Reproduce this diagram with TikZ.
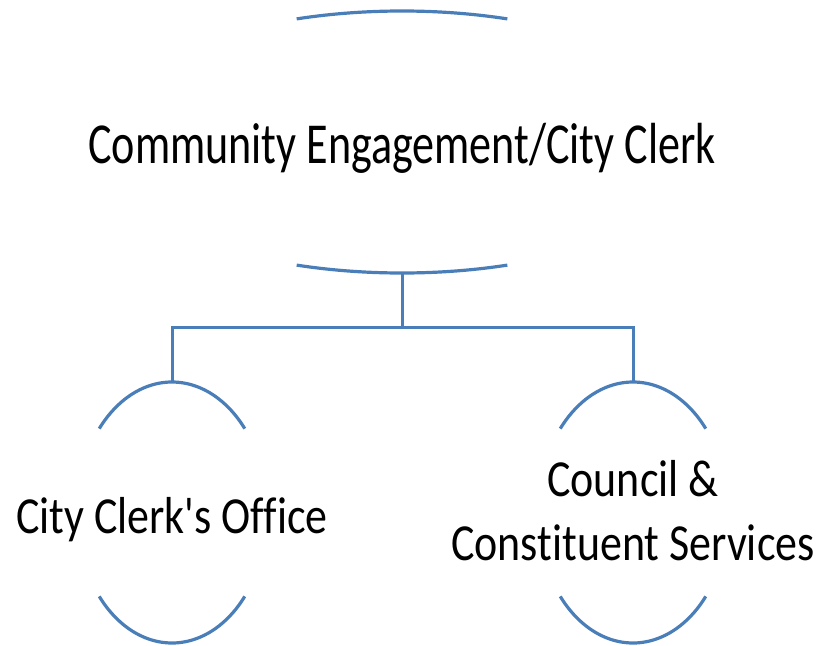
\documentclass[tikz,border=0pt]{standalone}
\usepackage{fontspec}
\setmainfont[Ligatures={TeXOff,CommonOff}]{Carlito}
\newfontfamily\headfont[Ligatures={TeXOff,CommonOff},FakeStretch=0.76]{Carlito}
\newfontfamily\unitfont[Ligatures={TeXOff,CommonOff},FakeStretch=0.845]{Carlito}
\usepackage{tikz}
\usetikzlibrary{calc}

\definecolor{orgblue}{RGB}{74,126,184}

\begin{document}
\begin{tikzpicture}[x=1pt, y=1pt,
    rim/.style={orgblue, line width=3.2pt},
    conn/.style={orgblue, line width=3pt},
    head/.style={anchor=base, inner sep=0pt, font=\headfont\fontsize{58}{70}\selectfont},
    unit/.style={anchor=base, align=center, inner sep=0pt, font=\unitfont\fontsize{52}{63.3}\selectfont}
  ]
  \useasboundingbox (0,0) rectangle (821,-645);

  % centres of the ellipses
  \coordinate (headc)    at (402,-142);
  \coordinate (clerkc)   at (172,-512.5);
  \coordinate (councilc) at (633,-512.5);

  % units of the chart
  \node[head] (head)    at (402,-163) {Community Engagement/City Clerk};
  \node[unit] (clerk)   at (172,-533) {City Clerk's Office};
  \node[unit] (council) at (633,-560) {Council \&\\Constituent Services};

  % rims, only the ends of each ellipse show
  \draw[rim] (headc) ++(70:308 and 131) arc[start angle=70, end angle=110, x radius=308, y radius=131];
  \draw[rim] (headc) ++(250:308 and 131) arc[start angle=250, end angle=290, x radius=308, y radius=131];
  \foreach \u in {clerkc, councilc} {
    \draw[rim] (\u) ++(40:95 and 130.5) arc[start angle=40, end angle=140, x radius=95, y radius=130.5];
    \draw[rim] (\u) ++(220:95 and 130.5) arc[start angle=220, end angle=320, x radius=95, y radius=130.5];
  }

  % tree lines
  \coordinate (fork) at ($(headc)+(0,-185.5)$);
  \draw[conn] ($(headc)+(0,-131)$) -- (fork);
  \draw[conn] (fork) -| ($(clerkc)+(0,130.5)$);
  \draw[conn] (fork) -| ($(councilc)+(0,130.5)$);
\end{tikzpicture}
\end{document}
